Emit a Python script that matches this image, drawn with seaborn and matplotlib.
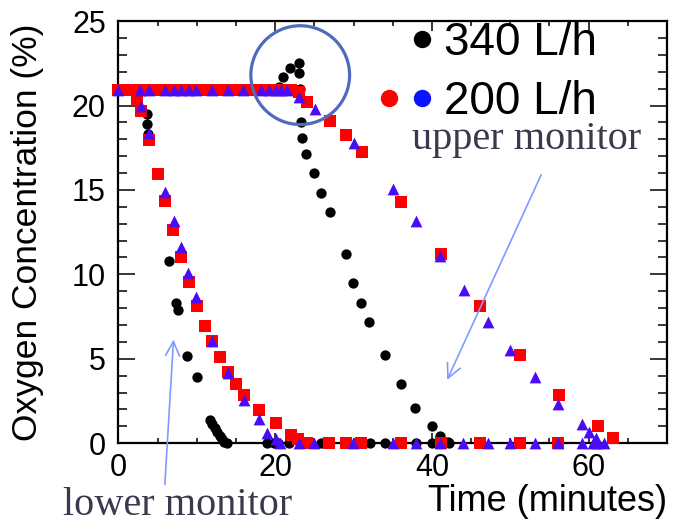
import matplotlib
matplotlib.use("Agg")
import numpy as np
import pandas as pd
import seaborn as sns
import matplotlib.pyplot as plt
from matplotlib.lines import Line2D
from matplotlib.legend_handler import HandlerTuple
from matplotlib.patches import Ellipse
from matplotlib.ticker import MultipleLocator

# ---------------- data ----------------
# 340 L/h, lower monitor (black dots)
t_340_lower = [0, 1, 2, 3, 3.6, 3.7, 3.8, 6.4, 7.3, 7.6, 8.8, 10.0, 11.7, 12.0, 12.3,
               12.6, 12.9, 13.2, 13.5, 13.8, 19.0, 19.9, 20.3, 21.8, 25.9, 32.1,
               34.0, 38.0, 40.0, 41.2, 42.2]
o_340_lower = [20.9, 20.9, 20.9, 20.9, 19.5, 18.9, 18.3, 10.8, 8.3, 7.9, 5.15, 3.9, 1.4,
               1.15, 0.9, 0.65, 0.45, 0.25, 0.1, 0.0, 0, 0, 0, 0, 0, 0, 0, 0, 0, 0, 0]

# 340 L/h, upper monitor (black dots)
t_340_upper = [20.5, 21.0, 21.9, 23.0, 23.1, 23.2, 23.3, 23.4, 23.9, 25.0, 25.9, 27.0,
               29.0, 29.9, 30.9, 32.0, 34.05, 36.0, 37.9, 40.0, 41.1, 42.1]
o_340_upper = [21.1, 21.7, 22.2, 22.5, 21.9, 21.0, 19.0, 18.1, 17.1, 16.0, 14.8, 13.7,
               11.2, 9.5, 8.3, 7.15, 5.2, 3.5, 2.08, 0.99, 0.43, 0.1]

# 200 L/h, squares (red), lower monitor
t_200sq_lower = [0, 1, 2, 2.35, 2.9, 3.9, 5.05, 6.0, 6.96, 8.0, 8.97, 10.0, 11.0, 12.0,
                 13.0, 14.0, 15.0, 16.0, 17.9, 20.1, 22.0, 22.9, 24.1, 26.9, 29.1,
                 31.0, 36.1, 41.2, 46.2, 51.2, 56.1]
o_200sq_lower = [20.9, 20.9, 20.9, 20.35, 19.7, 17.95, 15.97, 14.35, 12.6, 11.0, 9.54,
                 8.1, 6.97, 6.03, 5.1, 4.2, 3.5, 2.87, 1.98, 1.19, 0.5, 0.22, 0.04,
                 0, 0, 0, 0, 0, 0, 0, 0]

# 200 L/h, squares (red), upper monitor
t_200sq_upper = [3, 4, 5, 6, 7, 8, 9, 10, 11, 12, 13, 14, 15, 16, 17, 18, 19, 20, 21,
                 22.0, 23.1, 24.1, 27.0, 29.0, 31.1, 36.1, 41.2, 46.2, 51.2, 56.2,
                 61.2, 63.1]
o_200sq_upper = [20.9] * 19 + [20.9, 20.8, 20.2, 19.1, 18.25, 17.26, 14.3, 11.2, 8.1,
                               5.24, 2.87, 0.99, 0.3]

# 200 L/h, triangles (blue), lower monitor
t_200tr_lower = [0, 2.9, 3.9, 6.0, 7.05, 8.0, 8.9, 9.96, 11.9, 14.0, 16.0, 18.0, 19.0,
                 20.1, 20.6, 23.0, 25.0, 29.9, 35.0, 38.0, 41.1, 44.0, 47.1, 50.0,
                 53.2, 56.1]
o_200tr_lower = [20.9, 20.0, 18.4, 14.9, 13.16, 11.6, 10.1, 8.67, 6.03, 4.16, 2.53,
                 1.44, 0.61, 0.24, 0, 0, 0, 0, 0, 0, 0, 0, 0, 0, 0, 0]

# 200 L/h, triangles (blue), upper monitor
t_200tr_upper = [2.8, 3.85, 6.0, 7.05, 8.0, 9.0, 9.9, 11.9, 14.0, 15.9, 18.2, 19.2,
                 20.1, 20.7, 21.5, 23.0, 25.1, 30.0, 35.0, 38.0, 41.1, 44.1, 47.1,
                 50.0, 53.1, 56.1, 59.1, 60.1, 60.9, 59.2, 60.6, 61.1, 62.0]
o_200tr_upper = [20.9] * 15 + [20.5, 19.8, 17.8, 15.04, 13.16, 11.1, 9.1, 7.2, 5.54,
                               3.9, 2.33, 1.15, 0.65, 0.3, 0, 0, 0, 0]

legend_labels = ["340 L/h", "200 L/h"]
x_label = "Time (minutes)"
y_label = "Oxygen Concentration (%)"
note_upper = "upper monitor"
note_lower = "lower monitor"

# ---------------- assemble ----------------
def frame(t, o, flow, marker, monitor):
    return pd.DataFrame({"time": t, "o2": o, "flow": flow, "marker": marker,
                         "monitor": monitor})

df = pd.concat([
    frame(t_340_lower, o_340_lower, "340 L/h", "dot", "lower"),
    frame(t_340_upper, o_340_upper, "340 L/h", "dot", "upper"),
    frame(t_200sq_lower, o_200sq_lower, "200 L/h", "square", "lower"),
    frame(t_200sq_upper, o_200sq_upper, "200 L/h", "square", "upper"),
    frame(t_200tr_lower, o_200tr_lower, "200 L/h", "triangle", "lower"),
    frame(t_200tr_upper, o_200tr_upper, "200 L/h", "triangle", "upper"),
], ignore_index=True)

BLACK = "#000000"
RED = "#ff0000"
BLUE = "#4a0cf5"

sns.set_theme(style="ticks")
plt.rcParams["font.family"] = ["Liberation Sans", "DejaVu Sans"]
plt.rcParams["text.color"] = "black"

fig = plt.figure(figsize=(6.73, 5.27), dpi=100)
ax = fig.add_axes([0.176, 0.159, 0.815, 0.801])

styles = [("dot", "o", BLACK, 55, 2),
          ("square", "s", RED, 68, 3),
          ("triangle", "^", BLUE, 72, 4)]
for key, mk, col, size, z in styles:
    sub = df[df["marker"] == key]
    sns.scatterplot(data=sub, x="time", y="o2", marker=mk, color=col, s=size,
                    linewidth=0, ax=ax, zorder=z, legend=False, clip_on=False)

ax.set_xlim(0, 70)
ax.set_ylim(0, 25)
ax.xaxis.set_major_locator(MultipleLocator(20))
ax.xaxis.set_minor_locator(MultipleLocator(5))
ax.yaxis.set_major_locator(MultipleLocator(5))
ax.yaxis.set_minor_locator(MultipleLocator(1))

for s in ax.spines.values():
    s.set_color("black")
    s.set_linewidth(1.6)

ax.tick_params(which="both", direction="in", top=True, right=True, color="black",
               width=1.1, labelcolor="black")
ax.tick_params(axis="x", which="major", length=7, labelsize=22, pad=7)
ax.tick_params(axis="x", which="minor", length=3.5)
ax.tick_params(axis="y", which="major", length=12, labelsize=22, pad=9)
ax.tick_params(axis="y", which="minor", length=6.5)

ax.set_xlabel(x_label, fontsize=26, loc="right", labelpad=1, color="black")
ax.set_ylabel(y_label, fontsize=25.5, labelpad=20, color="black")

# circle around the overshoot
ax.add_patch(Ellipse((23.2, 21.8), width=12.6, height=5.85, fill=False,
                     ec="#4f6bbd", lw=2.3, zorder=6, clip_on=False))

# annotation arrows and texts
arrow_kw = dict(arrowstyle="->,head_length=0.85,head_width=0.42", color="#7f9cff",
                lw=1.2)
ax.annotate("", xy=(7.05, 6.3), xytext=(5.9, -2.6), arrowprops=arrow_kw,
            annotation_clip=False)
ax.annotate("", xy=(41.8, 3.6), xytext=(54.1, 16.05), arrowprops=arrow_kw,
            annotation_clip=False)

note_color = "#3a3a4e"
ax.text(37.4, 17.4, note_upper, fontsize=29, family=["Liberation Serif", "DejaVu Serif"],
        color=note_color, ha="left", va="baseline")
ax.text(-7.05, -4.26, note_lower, fontsize=29, family=["Liberation Serif", "DejaVu Serif"],
        color=note_color, ha="left", va="baseline", clip_on=False)

# legend
ms = 11.5
h_blank = Line2D([], [], ls="", marker="o", color="none", markersize=ms)
h_black = Line2D([], [], ls="", marker="o", color=BLACK, markersize=ms)
h_red = Line2D([], [], ls="", marker="o", color=RED, markersize=ms)
h_blue = Line2D([], [], ls="", marker="o", color="#0a14ff", markersize=ms)
leg = fig.legend([(h_blank, h_black), (h_red, h_blue)], legend_labels,
                 handler_map={tuple: HandlerTuple(ndivide=None, pad=0)},
                 loc="upper left", bbox_to_anchor=(372 / 673, 1 - 21 / 527),
                 frameon=False, fontsize=33, handlelength=1.44, handletextpad=0.14,
                 labelspacing=0.33, borderpad=0, borderaxespad=0)
for txt in leg.get_texts():
    txt.set_color("black")

fig.savefig("out.png", dpi=100)
